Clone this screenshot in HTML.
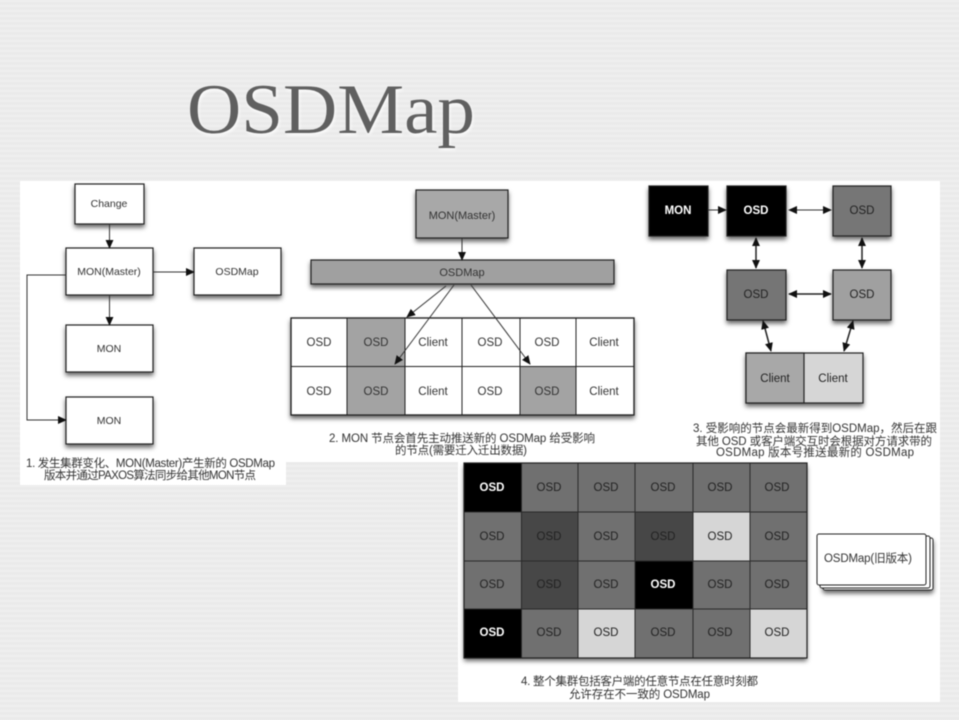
<!DOCTYPE html>
<html><head><meta charset="utf-8">
<style>
html,body{margin:0;padding:0;width:959px;height:720px;overflow:hidden;background:#ebebeb}
#bg{position:absolute;left:0;top:0;width:959px;height:720px;background:repeating-linear-gradient(180deg,#eeeeee 0,#eeeeee 2px,#e9e9e9 3px,#ececec 5px)}
svg{position:absolute;left:0;top:0;filter:blur(.45px)}
text{font-family:"Liberation Sans","Noto Sans CJK SC",sans-serif}
.l{font-size:11.5px;fill:#333;text-anchor:middle}
.m{font-size:10.5px;fill:#333;text-anchor:middle}
.w{font-size:11.5px;fill:#fff;text-anchor:middle;font-weight:bold}
.b{font-size:11.5px;fill:#222;text-anchor:middle}
.c{font-size:11.5px;fill:#333}
.n{stroke:#222;stroke-width:1.2}
.ln{stroke:#333;stroke-width:1;fill:none}
.th{stroke:#222;stroke-width:1.5;fill:none}
</style></head>
<body>
<div id="bg"></div>
<svg width="959" height="720" viewBox="0 0 959 720" xmlns="http://www.w3.org/2000/svg">
<defs>
<filter id="s" x="-20%" y="-20%" width="140%" height="150%"><feDropShadow dx="0" dy="3" stdDeviation="2.4" flood-color="#000" flood-opacity=".6"/></filter>
<filter id="t" x="-5%" y="-10%" width="110%" height="130%"><feDropShadow dx="1" dy="2" stdDeviation="1.5" flood-color="#fff" flood-opacity=".9"/></filter>
<marker id="a" viewBox="0 0 10 10" refX="9" refY="5" markerWidth="9" markerHeight="8" orient="auto-start-reverse" markerUnits="userSpaceOnUse" preserveAspectRatio="none"><path d="M0 0L10 5L0 10z" fill="#111"/></marker>
</defs>

<text x="187" y="133" font-size="71" textLength="288" lengthAdjust="spacingAndGlyphs" fill="#606060" filter="url(#t)" style="font-family:'Liberation Serif',serif">OSDMap</text>

<!-- panels -->
<rect x="20" y="181" width="920" height="281" fill="#fff"/>
<rect x="20" y="460" width="266" height="25" fill="#fff"/>
<rect x="458" y="460" width="482" height="242" fill="#fff"/>

<!-- Panel 1 -->
<g class="n" fill="#fff">
<rect x="75" y="184" width="69" height="40" filter="url(#s)"/>
<rect x="66" y="248" width="87" height="47" filter="url(#s)"/>
<rect x="194" y="248" width="87" height="47" filter="url(#s)"/>
<rect x="66" y="325" width="87" height="47" filter="url(#s)"/>
<rect x="66" y="397" width="87" height="47" filter="url(#s)"/>
</g>
<g class="ln">
<path d="M109.500 224V248" marker-end="url(#a)"/>
<path d="M153 272H194" marker-end="url(#a)"/>
<path d="M109.500 295V325" marker-end="url(#a)"/>
<path d="M66 275H27V420H66" marker-end="url(#a)"/>
</g>
<text class="l" x="109" y="207" style="font-size:10.500px">Change</text>
<text class="m" x="109" y="275">MON(Master)</text>
<text class="m" x="237" y="275">OSDMap</text>
<text class="m" x="109" y="352">MON</text>
<text class="m" x="109" y="424">MON</text>
<text class="c" x="26" y="467" textLength="249" lengthAdjust="spacing">1. 发生集群变化、MON(Master)产生新的 OSDMap</text>
<text class="c" x="44" y="479" textLength="212" lengthAdjust="spacing">版本并通过PAXOS算法同步给其他MON节点</text>

<!-- Panel 2 -->
<rect class="n" x="416" y="190" width="92" height="48" fill="#a8a8a8" filter="url(#s)"/>
<rect class="n" x="311" y="260" width="303" height="24" fill="#a0a0a0" filter="url(#s)"/>
<rect class="n" x="291" y="318" width="343" height="97" fill="#fff" filter="url(#s)"/>
<rect x="347" y="318" width="58" height="97" fill="#a3a3a3"/>
<rect x="520" y="366.500" width="56" height="48.500" fill="#a3a3a3"/>
<path d="M291 366.500H634M347 318V415M405 318V415M462 318V415M520 318V415M576 318V415" stroke="#222" stroke-width="1" fill="none"/>
<rect x="291" y="318" width="343" height="97" fill="none" class="n"/>
<g class="ln">
<path d="M462 238V260" marker-end="url(#a)"/>
<path d="M446 286L407 317" marker-end="url(#a)"/>
<path d="M454 285L395 364" marker-end="url(#a)"/>
<path d="M471 285L530 364" marker-end="url(#a)"/>
</g>
<text class="l" x="462" y="219" style="font-size:11px">MON(Master)</text>
<text class="l" x="462" y="276" style="font-size:11px">OSDMap</text>
<text class="l" x="319" y="346">OSD</text><text class="l" x="376" y="346">OSD</text><text class="l" x="433" y="346">Client</text><text class="l" x="490" y="346">OSD</text><text class="l" x="547" y="346">OSD</text><text class="l" x="604" y="346">Client</text>
<text class="l" x="319" y="395">OSD</text><text class="l" x="376" y="395">OSD</text><text class="l" x="433" y="395">Client</text><text class="l" x="490" y="395">OSD</text><text class="l" x="547" y="395">OSD</text><text class="l" x="604" y="395">Client</text>
<text class="c" x="329" y="442" textLength="266" lengthAdjust="spacing">2. MON 节点会首先主动推送新的 OSDMap 给受影响</text>
<text class="c" x="395" y="454" textLength="132" lengthAdjust="spacing">的节点(需要迁入迁出数据)</text>

<!-- Panel 3 -->
<g class="n">
<rect x="649" y="186" width="59" height="50" fill="#000" filter="url(#s)"/>
<rect x="727" y="186" width="59" height="50" fill="#000" filter="url(#s)"/>
<rect x="833" y="186" width="58" height="50" fill="#767676" filter="url(#s)"/>
<rect x="727" y="270" width="59" height="50" fill="#747474" filter="url(#s)"/>
<rect x="833" y="270" width="58" height="50" fill="#a0a0a0" filter="url(#s)"/>
<rect x="746" y="353" width="117" height="50" fill="#d6d6d6" filter="url(#s)"/>
<rect x="746" y="353" width="58" height="50" fill="#a8a8a8"/>
</g>
<g class="ln">
<path d="M708 210H726" marker-end="url(#a)"/>
<path d="M789 210H831" marker-start="url(#a)" marker-end="url(#a)"/>
</g>
<g class="th">
<path d="M756 238V268" marker-start="url(#a)" marker-end="url(#a)"/>
<path d="M862 238V268" marker-start="url(#a)" marker-end="url(#a)"/>
<path d="M789 294H831" marker-start="url(#a)" marker-end="url(#a)"/>
<path d="M763 321L771 351" marker-start="url(#a)" marker-end="url(#a)"/>
<path d="M853 321L844 351" marker-start="url(#a)" marker-end="url(#a)"/>
</g>
<text class="w" x="678" y="214">MON</text>
<text class="w" x="756" y="214">OSD</text>
<text class="b" x="862" y="214">OSD</text>
<text class="b" x="756" y="298">OSD</text>
<text class="b" x="862" y="298">OSD</text>
<text class="b" x="775" y="382">Client</text>
<text class="b" x="833" y="382">Client</text>
<text class="c" x="693" y="432" textLength="244" lengthAdjust="spacing">3. 受影响的节点会最新得到OSDMap，然后在跟</text>
<text class="c" x="696" y="445" textLength="236" lengthAdjust="spacing">其他 OSD 或客户端交互时会根据对方请求带的</text>
<text class="c" x="716" y="456" textLength="198" lengthAdjust="spacing">OSDMap 版本号推送最新的 OSDMap</text>

<!-- Panel 4 -->
<rect x="464" y="463" width="343" height="195" fill="#707070" filter="url(#s)"/>
<rect x="464" y="463" width="57.500" height="49" fill="#000"/>
<rect x="521.500" y="512" width="56.500" height="49" fill="#474747"/>
<rect x="635" y="512" width="58" height="49" fill="#474747"/>
<rect x="693" y="512" width="57" height="49" fill="#d6d6d6"/>
<rect x="521.500" y="561" width="56.500" height="48" fill="#474747"/>
<rect x="635" y="561" width="58" height="48" fill="#000"/>
<rect x="464" y="609" width="57.500" height="49" fill="#000"/>
<rect x="578" y="609" width="57" height="49" fill="#d6d6d6"/>
<rect x="750" y="609" width="57" height="49" fill="#d6d6d6"/>
<path d="M464 512H807M464 561H807M464 609H807M521.500 463V658M578 463V658M635 463V658M693 463V658M750 463V658" stroke="#2a2a2a" stroke-width="1" fill="none"/>
<rect x="464" y="463" width="343" height="195" fill="none" stroke="#222" stroke-width="1.2"/>
<text class="w" x="492" y="491">OSD</text><text class="b" x="549" y="491">OSD</text><text class="b" x="606" y="491">OSD</text><text class="b" x="663" y="491">OSD</text><text class="b" x="720" y="491">OSD</text><text class="b" x="777" y="491">OSD</text>
<text class="b" x="492" y="540">OSD</text><text class="b" x="549" y="540">OSD</text><text class="b" x="606" y="540">OSD</text><text class="b" x="663" y="540">OSD</text><text class="b" x="720" y="540">OSD</text><text class="b" x="777" y="540">OSD</text>
<text class="b" x="492" y="588">OSD</text><text class="b" x="549" y="588">OSD</text><text class="b" x="606" y="588">OSD</text><text class="w" x="663" y="588">OSD</text><text class="b" x="720" y="588">OSD</text><text class="b" x="777" y="588">OSD</text>
<text class="w" x="492" y="636">OSD</text><text class="b" x="549" y="636">OSD</text><text class="b" x="606" y="636">OSD</text><text class="b" x="663" y="636">OSD</text><text class="b" x="720" y="636">OSD</text><text class="b" x="777" y="636">OSD</text>

<rect x="823" y="538" width="110" height="52" rx="2" fill="#fff" stroke="#222" stroke-width="1" filter="url(#s)"/>
<rect x="820" y="536" width="110" height="52" rx="2" fill="#fff" stroke="#222" stroke-width="1"/>
<rect x="817" y="534" width="109" height="51" rx="2" fill="#fff" stroke="#222" stroke-width="1"/>
<text class="c" x="824" y="562" textLength="88" lengthAdjust="spacing">OSDMap(旧版本)</text>
<text class="c" x="521" y="685" textLength="237" lengthAdjust="spacing">4. 整个集群包括客户端的任意节点在任意时刻都</text>
<text class="c" x="569" y="698" textLength="141" lengthAdjust="spacing">允许存在不一致的 OSDMap</text>
</svg>
</body></html>
